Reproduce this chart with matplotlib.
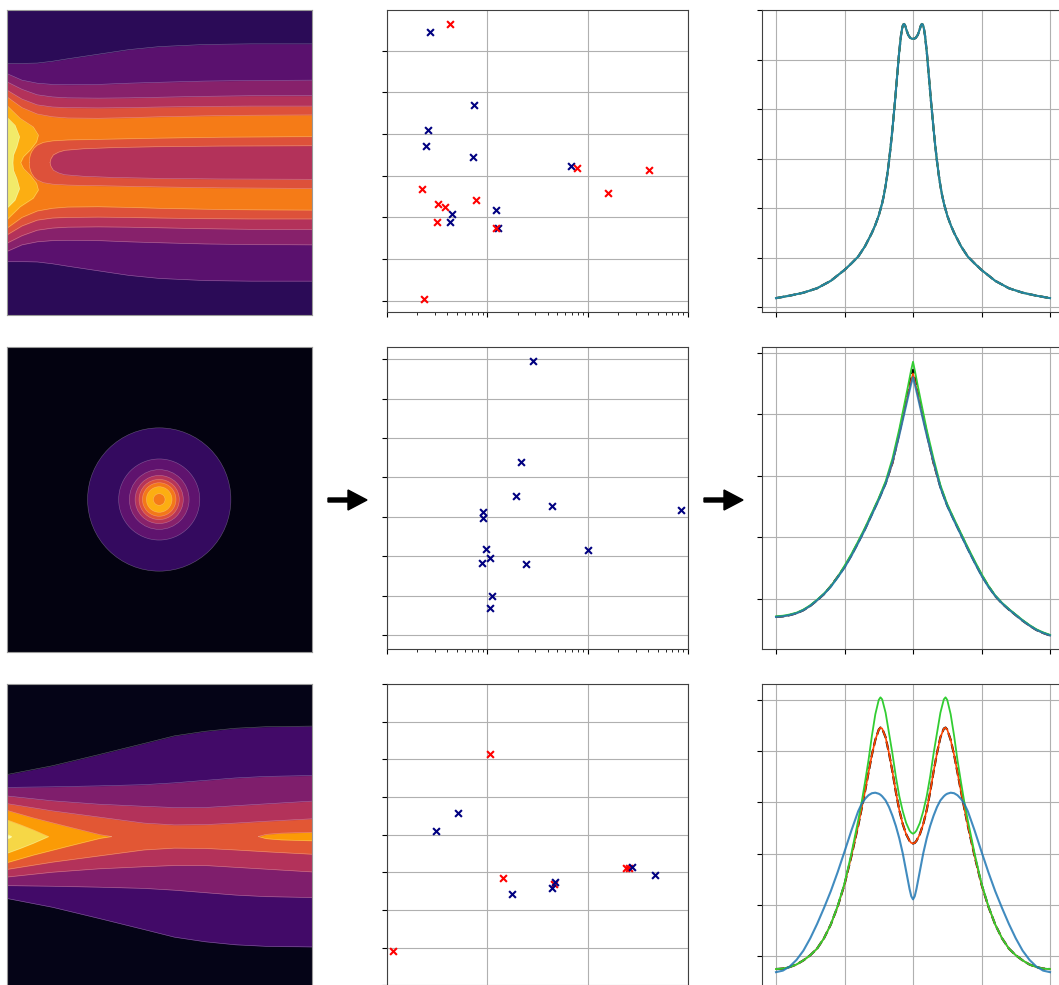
import numpy as np
import matplotlib
matplotlib.use("Agg")
import matplotlib.pyplot as plt
from matplotlib.patches import Circle, FancyArrow
from matplotlib.ticker import MultipleLocator

# ---------------- data: left column (band boundaries, half-widths) ----------------
# row 1 field map: x stations and half-widths of each level boundary
c1_x = [0, 0.5, 1.0, 1.5, 2.0, 3.0, 4.0, 5.0, 6.5, 8.0, 10]
c1_b1 = [3.25, 3.25, 3.26, 3.32, 3.40, 3.55, 3.70, 3.80, 3.87, 3.89, 3.89]
c1_b2 = [2.92, 2.70, 2.60, 2.56, 2.55, 2.56, 2.60, 2.63, 2.67, 2.69, 2.70]
c1_b3 = [2.65, 2.40, 2.22, 2.15, 2.12, 2.11, 2.12, 2.14, 2.17, 2.19, 2.19]
c1_b4 = [2.38, 2.08, 1.89, 1.82, 1.80, 1.79, 1.80, 1.82, 1.84, 1.85, 1.85]
c1_b5 = [2.16, 1.80, 1.59, 1.50, 1.46, 1.45, 1.47, 1.50, 1.53, 1.55, 1.56]
c1_in1_x = [0.74, 0.75, 0.78, 0.82, 0.90, 1.0, 1.2, 1.5, 2.0, 3.0, 5.0, 7.0, 10]
c1_in1_h = [0, 0.15, 0.27, 0.36, 0.48, 0.57, 0.66, 0.71, 0.74, 0.76, 0.80, 0.83, 0.85]
c1_in2_x = [1.42, 1.45, 1.53, 1.7, 1.9, 2.5, 3.5, 5.0, 7.0, 10]
c1_in2_h = [0, 0.12, 0.25, 0.34, 0.40, 0.45, 0.49, 0.52, 0.54, 0.55]
c1_lo_h = [1.88, 1.45, 1.17, 0.90, 0.68, 0.41, 0.19, 0]
c1_lo_x = [0, 0.44, 0.87, 1.04, 0.98, 0.77, 0.55, 0.46]
c1_ye_h = [1.50, 1.23, 0.85, 0.52, 0.25, 0]
c1_ye_x = [0, 0.27, 0.42, 0.33, 0.22, 0.20]
c1_levels = [0.15, 0.26, 0.37, 0.48, 0.60, 0.71, 0.82, 0.94]

# row 2 field map: concentric level radii
c2_center = (5.0, 0.0)
c2_radii = [2.35, 1.33, 0.98, 0.79, 0.66, 0.55, 0.42, 0.19]
c2_levels = [0.03, 0.17, 0.27, 0.37, 0.49, 0.60, 0.70, 0.82, 0.71]

# row 3 field map
c3_x = [0, 1.5, 3.0, 4.5, 5.5, 6.5, 7.5, 8.5, 10]
c3_b1 = [2.03, 2.32, 2.68, 3.05, 3.30, 3.45, 3.55, 3.60, 3.62]
c3_b2 = [1.61, 1.63, 1.66, 1.70, 1.76, 1.84, 1.92, 1.97, 2.00]
c3_b3 = [1.33, 1.17, 1.06, 0.99, 0.95, 0.95, 1.01, 1.07, 1.16]
c3_b4 = [1.08, 0.84, 0.64, 0.44, 0.38, 0.39, 0.44, 0.50, 0.58]
c3_or_x = [0, 0.87, 1.97, 3.06, 3.44]
c3_or_h = [0.86, 0.61, 0.33, 0.06, 0]
c3_ye_x = [0, 0.44, 0.87, 1.37]
c3_ye_h = [0.55, 0.39, 0.22, 0]
c3_wh_x = [0, 0.08, 0.16]
c3_wh_h = [0.06, 0.05, 0]
c3_sp_x = [8.25, 8.5, 9.0, 10]
c3_sp_h = [0, 0.07, 0.11, 0.14]
c3_levels = [0.04, 0.20, 0.35, 0.48, 0.62, 0.78, 0.90, 1.0]

# ---------------- data: middle column (scatter) ----------------
s1_blue_x = [0.270, 0.728, 0.258, 0.242, 0.716, 6.86, 1.21, 0.440, 0.420, 1.27]
s1_blue_y = [6.44, 4.69, 4.10, 3.72, 3.46, 3.24, 2.18, 2.08, 1.88, 1.74]
s1_red_x = [0.427, 0.223, 0.319, 0.378, 0.314, 0.767, 1.22, 7.74, 15.9, 40.9, 0.233]
s1_red_y = [6.65, 2.69, 2.32, 2.24, 1.90, 2.43, 1.74, 3.18, 2.58, 3.13, 0.05]

s2_blue_x = [2.83, 2.18, 1.93, 4.41, 84.5, 0.914, 0.914, 0.964, 10.1, 1.07, 0.893, 2.41, 1.11, 1.07]
s2_blue_y = [6.95, 4.39, 3.52, 3.27, 3.18, 3.13, 2.97, 2.19, 2.17, 1.95, 1.84, 1.80, 0.99, 0.70]

s3_blue_x = [0.512, 0.310, 1.76, 4.72, 4.44, 27.9, 46.6]
s3_blue_y = [3.58, 3.09, 1.42, 1.75, 1.59, 2.14, 1.93]
s3_red_x = [1.07, 1.42, 4.61, 24.0, 25.9, 0.116]
s3_red_y = [5.13, 1.86, 1.68, 2.12, 2.12, -0.08]

# ---------------- data: right column (profiles) ----------------
p1_x = [-2.0, -1.8, -1.6, -1.4, -1.2, -1.0, -0.9, -0.8, -0.7, -0.6, -0.55, -0.5, -0.45,
        -0.425, -0.4, -0.375, -0.35, -0.325, -0.3, -0.28, -0.26, -0.24, -0.22, -0.205,
        -0.19, -0.175, -0.16, -0.15, -0.14, -0.13, -0.12, -0.11, -0.10, -0.085, -0.07,
        -0.055, -0.04, -0.02, 0.0,
        0.02, 0.04, 0.055, 0.07, 0.085, 0.10, 0.11, 0.12, 0.13, 0.14, 0.15, 0.16, 0.175,
        0.19, 0.205, 0.22, 0.24, 0.26, 0.28, 0.3, 0.325, 0.35, 0.375, 0.4, 0.425, 0.45,
        0.5, 0.55, 0.6, 0.7, 0.8, 0.9, 1.0, 1.2, 1.4, 1.6, 1.8, 2.0]
p1_y = [0.18, 0.23, 0.29, 0.38, 0.53, 0.75, 0.88, 1.02, 1.23, 1.50, 1.66, 1.85, 2.10,
        2.26, 2.45, 2.68, 2.95, 3.26, 3.60, 3.90, 4.20, 4.53, 4.85, 5.10,
        5.30, 5.49, 5.62, 5.68, 5.71, 5.72, 5.70, 5.67, 5.62, 5.56, 5.50,
        5.47, 5.44, 5.425, 5.42,
        5.425, 5.44, 5.47, 5.50, 5.56, 5.62, 5.67, 5.70, 5.72, 5.71, 5.68, 5.62, 5.49,
        5.30, 5.10, 4.85, 4.53, 4.20, 3.90, 3.60, 3.26, 2.95, 2.68, 2.45, 2.26, 2.10,
        1.85, 1.66, 1.50, 1.23, 1.02, 0.88, 0.75, 0.53, 0.38, 0.29, 0.23, 0.18]

p2_x = [-2.0, -1.9, -1.8, -1.7, -1.6, -1.5, -1.4, -1.3, -1.2, -1.1, -1.0, -0.9, -0.8, -0.7,
        -0.6, -0.5, -0.4, -0.3, -0.2, -0.13, -0.07, -0.03, 0.0, 0.03, 0.07, 0.13, 0.2, 0.3,
        0.4, 0.5, 0.6, 0.7, 0.8, 0.9, 1.0, 1.1, 1.2, 1.3, 1.4, 1.5, 1.6, 1.7, 1.8, 1.9, 2.0]
p2_blue = [-0.29, -0.28, -0.26, -0.23, -0.18, -0.11, -0.02, 0.08, 0.20, 0.35, 0.51, 0.70, 0.91,
           1.13, 1.37, 1.61, 1.87, 2.22, 2.66, 3.00, 3.29, 3.48, 3.60, 3.47, 3.28, 2.99, 2.66,
           2.22, 1.81, 1.51, 1.27, 1.04, 0.81, 0.59, 0.38, 0.20, 0.05, -0.07, -0.17, -0.26,
           -0.35, -0.43, -0.50, -0.55, -0.59]
p2_green = [-0.28, -0.27, -0.25, -0.22, -0.17, -0.10, -0.01, 0.09, 0.21, 0.36, 0.54, 0.73, 0.94,
            1.16, 1.40, 1.64, 1.91, 2.28, 2.76, 3.14, 3.47, 3.70, 3.85, 3.69, 3.46, 3.13, 2.75,
            2.28, 1.85, 1.54, 1.30, 1.07, 0.84, 0.62, 0.41, 0.22, 0.06, -0.06, -0.16, -0.25,
            -0.34, -0.42, -0.49, -0.54, -0.58]
p2_red = [-0.29, -0.28, -0.26, -0.23, -0.18, -0.11, -0.02, 0.08, 0.21, 0.36, 0.52, 0.71, 0.92,
          1.14, 1.38, 1.62, 1.88, 2.20, 2.68, 3.03, 3.33, 3.53, 3.66, 3.52, 3.32, 3.02, 2.68,
          2.20, 1.82, 1.52, 1.28, 1.05, 0.82, 0.60, 0.39, 0.21, 0.05, -0.07, -0.17, -0.26,
          -0.35, -0.43, -0.50, -0.55, -0.59]
p2_black = [-0.29, -0.28, -0.26, -0.23, -0.18, -0.11, -0.02, 0.08, 0.21, 0.36, 0.52, 0.71, 0.92,
            1.14, 1.38, 1.62, 1.88, 2.21, 2.70, 3.06, 3.37, 3.58, 3.72, 3.57, 3.36, 3.05, 2.70,
            2.21, 1.82, 1.52, 1.28, 1.05, 0.82, 0.60, 0.39, 0.21, 0.05, -0.07, -0.17, -0.26,
            -0.35, -0.43, -0.50, -0.55, -0.59]

p3_x = [-2.0, -1.9, -1.8, -1.7, -1.6, -1.5, -1.4, -1.3, -1.2, -1.1, -1.0, -0.9, -0.8, -0.75,
        -0.7, -0.65, -0.6, -0.55, -0.5, -0.475, -0.45, -0.4, -0.35, -0.3, -0.25, -0.2, -0.15,
        -0.1, -0.05, -0.025, 0.0, 0.025, 0.05, 0.1, 0.15, 0.2, 0.25, 0.3, 0.35, 0.4, 0.45,
        0.475, 0.5, 0.55, 0.6, 0.65, 0.7, 0.75, 0.8, 0.9, 1.0, 1.1, 1.2, 1.3, 1.4, 1.5, 1.6,
        1.7, 1.8, 1.9, 2.0]
p3_blue = [-0.31, -0.28, -0.20, -0.07, 0.11, 0.35, 0.63, 0.94, 1.27, 1.64, 2.04, 2.45, 2.83, 2.97,
           3.07, 3.14, 3.18, 3.19, 3.17, 3.15, 3.12, 3.04, 2.91, 2.74, 2.54, 2.30, 2.01,
           1.66, 1.31, 1.17, 1.11, 1.17, 1.31, 1.66, 2.01, 2.30, 2.54, 2.74, 2.91, 3.04, 3.12,
           3.15, 3.17, 3.19, 3.18, 3.14, 3.07, 2.97, 2.83, 2.45, 2.04, 1.64, 1.27, 0.94, 0.63, 0.35, 0.11,
           -0.07, -0.20, -0.28, -0.31]
p3_green = [-0.25, -0.24, -0.21, -0.16, -0.08, 0.02, 0.15, 0.35, 0.62, 0.98, 1.42, 2.00, 2.65, 3.00,
            3.40, 3.82, 4.30, 4.72, 5.00, 5.05, 5.01, 4.75, 4.35, 3.95, 3.50, 3.12, 2.83,
            2.60, 2.45, 2.41, 2.39, 2.41, 2.45, 2.60, 2.83, 3.12, 3.50, 3.95, 4.35, 4.75, 5.01,
            5.05, 5.00, 4.72, 4.30, 3.82, 3.40, 3.00, 2.65, 2.00, 1.42, 0.98, 0.62, 0.35, 0.15, 0.02, -0.08,
            -0.16, -0.21, -0.24, -0.25]
p3_red = [-0.25, -0.24, -0.21, -0.16, -0.08, 0.02, 0.15, 0.35, 0.62, 0.97, 1.40, 1.95, 2.55, 2.88,
          3.22, 3.58, 3.93, 4.22, 4.42, 4.46, 4.44, 4.27, 3.96, 3.60, 3.20, 2.85, 2.58,
          2.38, 2.25, 2.21, 2.20, 2.21, 2.25, 2.38, 2.58, 2.85, 3.20, 3.60, 3.96, 4.27, 4.44,
          4.46, 4.42, 4.22, 3.93, 3.58, 3.22, 2.88, 2.55, 1.95, 1.40, 0.97, 0.62, 0.35, 0.15, 0.02, -0.08,
          -0.16, -0.21, -0.24, -0.25]
p3_black = [-0.25, -0.24, -0.21, -0.16, -0.08, 0.02, 0.15, 0.35, 0.62, 0.97, 1.40, 1.95, 2.55, 2.88,
            3.22, 3.58, 3.93, 4.22, 4.42, 4.46, 4.44, 4.27, 3.96, 3.60, 3.20, 2.85, 2.58,
            2.38, 2.25, 2.21, 2.20, 2.21, 2.25, 2.38, 2.58, 2.85, 3.20, 3.60, 3.96, 4.27, 4.44,
            4.46, 4.42, 4.22, 3.93, 3.58, 3.22, 2.88, 2.55, 1.95, 1.40, 0.97, 0.62, 0.35, 0.15, 0.02, -0.08,
            -0.16, -0.21, -0.24, -0.25]

# ---------------- figure ----------------
W, H = 1059, 985
fig = plt.figure(figsize=(W / 100, H / 100), dpi=100)
cm = plt.get_cmap("inferno")


def add_ax(l, t, w, h):
    return fig.add_axes([l / W, 1 - (t + h) / H, w / W, h / H])


def field_ax(top):
    ax = add_ax(6.7, top, 305, 305)
    ax.set_xlim(0, 10)
    ax.set_ylim(-5, 5)
    ax.set_xticks([])
    ax.set_yticks([])
    for s in ax.spines.values():
        s.set_color("0.6")
        s.set_linewidth(0.8)
    return ax


def band(ax, x, h, color):
    x = np.asarray(x, float)
    h = np.asarray(h, float)
    ax.fill_between(x, -h, h, color=color, lw=0, antialiased=True)
    ax.plot(x, h, color="white", lw=0.4, alpha=0.35)
    ax.plot(x, -h, color="white", lw=0.4, alpha=0.35)


def lobe(ax, h, x, color):
    h = np.asarray(h, float)
    x = np.asarray(x, float)
    yy = np.concatenate([-h, h[::-1]])
    xx = np.concatenate([x, x[::-1]])
    ax.fill_betweenx(yy, 0, xx, color=color, lw=0)
    ax.plot(xx, yy, color="white", lw=0.4, alpha=0.35)


# row 1 field
ax = field_ax(10)
ax.set_facecolor(cm(c1_levels[0]))
band(ax, c1_x, c1_b1, cm(c1_levels[1]))
band(ax, c1_x, c1_b2, cm(c1_levels[2]))
band(ax, c1_x, c1_b3, cm(c1_levels[3]))
band(ax, c1_x, c1_b4, cm(c1_levels[4]))
band(ax, c1_x, c1_b5, cm(c1_levels[5]))
band(ax, c1_in1_x, c1_in1_h, cm(c1_levels[4]))
band(ax, c1_in2_x, c1_in2_h, cm(c1_levels[3]))
lobe(ax, c1_lo_h, c1_lo_x, cm(c1_levels[6]))
lobe(ax, c1_ye_h, c1_ye_x, cm(c1_levels[7]))

# row 2 field
ax = field_ax(347)
ax.set_facecolor(cm(c2_levels[0]))
for r, lv in zip(c2_radii, c2_levels[1:]):
    ax.add_patch(Circle(c2_center, r, facecolor=cm(lv), edgecolor=(1, 1, 1, 0.3), lw=0.4))

# row 3 field
ax = field_ax(684)
ax.set_facecolor(cm(c3_levels[0]))
band(ax, c3_x, c3_b1, cm(c3_levels[1]))
band(ax, c3_x, c3_b2, cm(c3_levels[2]))
band(ax, c3_x, c3_b3, cm(c3_levels[3]))
band(ax, c3_x, c3_b4, cm(c3_levels[4]))
band(ax, c3_or_x, c3_or_h, cm(c3_levels[5]))
band(ax, c3_sp_x, c3_sp_h, cm(c3_levels[5]))
band(ax, c3_ye_x, c3_ye_h, cm(c3_levels[6]))
band(ax, c3_wh_x, c3_wh_h, cm(c3_levels[7]))


# middle column
def scatter_ax(top, ylim):
    ax = add_ax(387, top, 301, 302)
    ax.set_xscale("log")
    ax.set_xlim(0.1, 100)
    ax.set_ylim(*ylim)
    ax.yaxis.set_major_locator(MultipleLocator(1))
    ax.grid(True, which="major", color="#b0b0b0", lw=0.8)
    ax.set_axisbelow(True)
    ax.tick_params(labelleft=False, labelbottom=False)
    for s in ax.spines.values():
        s.set_color("0.25")
    return ax


ax = scatter_ax(10, (-0.27, 6.98))
ax.scatter(s1_blue_x, s1_blue_y, marker="x", color="navy", s=24, zorder=3)
ax.scatter(s1_red_x, s1_red_y, marker="x", color="red", s=24, zorder=3)

ax = scatter_ax(347, (-0.35, 7.31))
ax.scatter(s2_blue_x, s2_blue_y, marker="x", color="navy", s=24, zorder=3)

ax = scatter_ax(684, (-1.02, 7.001))
ax.scatter(s3_red_x, s3_red_y, marker="x", color="red", s=24, zorder=3)
ax.scatter(s3_blue_x, s3_blue_y, marker="x", color="navy", s=24, zorder=3)


# right column
def line_ax(top, ylim):
    ax = add_ax(762.3, top, 301.4, 302)
    ax.set_xlim(-2.2, 2.2)
    ax.set_ylim(*ylim)
    ax.xaxis.set_major_locator(MultipleLocator(1))
    ax.yaxis.set_major_locator(MultipleLocator(1))
    ax.grid(True, color="#b0b0b0", lw=0.8)
    ax.set_axisbelow(True)
    ax.tick_params(labelleft=False, labelbottom=False)
    for s in ax.spines.values():
        s.set_color("0.25")
    return ax


def draw_profiles(ax, x, red, black, green, blue):
    ax.plot(x, black, color="k", lw=1.6, ls="--")
    ax.plot(x, red, color="orangered", lw=1.2)
    ax.plot(x, green, color="limegreen", lw=1.3)
    ax.plot(x, blue, color="tab:blue", lw=1.5, alpha=0.85)


ax = line_ax(10, (-0.10, 6.003))
draw_profiles(ax, p1_x, p1_y, p1_y, p1_y, p1_y)

ax = line_ax(347, (-0.81, 4.09))
draw_profiles(ax, p2_x, p2_red, p2_black, p2_green, p2_blue)

ax = line_ax(684, (-0.58, 5.31))
draw_profiles(ax, p3_x, p3_red, p3_black, p3_green, p3_blue)

# arrows between columns (middle row)
for x0 in (328, 704):
    fig.add_artist(FancyArrow(x0 / W, (H - 500) / H, 39 / W, 0,
                              width=4 / H, head_width=20 / H, head_length=19 / W,
                              length_includes_head=True, color="k",
                              transform=fig.transFigure))

fig.savefig("out.png", dpi=100)
